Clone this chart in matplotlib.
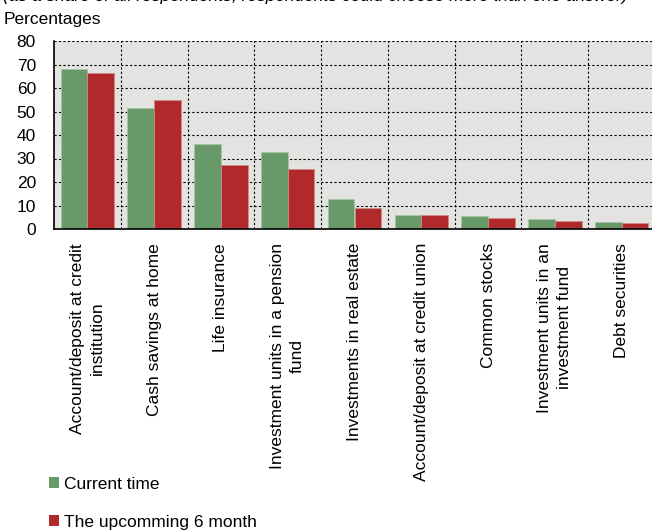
import numpy as np
import matplotlib.pyplot as plt
from matplotlib.ticker import MultipleLocator, FixedLocator
from matplotlib.patches import Patch

plt.rcParams['font.family'] = ['Liberation Sans', 'DejaVu Sans']

categories = [
    "Account/deposit at credit\ninstitution",
    "Cash savings at home",
    "Life insurance",
    "Investment units in a pension\nfund",
    "Investments in real estate",
    "Account/deposit at credit union",
    "Common stocks",
    "Investment units in an\ninvestment fund",
    "Debt securities",
]
current_time = [68.0, 51.3, 36.3, 32.6, 12.7, 5.9, 5.7, 4.2, 3.0]
upcoming_6m = [66.4, 55.0, 27.2, 25.6, 8.9, 5.8, 4.7, 3.4, 2.5]
series_names = ["Current time", "The upcomming 6 month"]

GREEN = "#679a68"
RED = "#b0292b"
FS = 12.5

fig = plt.figure(figsize=(6.52, 5.32), dpi=100)
ax = fig.add_axes([54 / 652, 1 - 229 / 532, 601 / 652, 188 / 532])

x = np.arange(len(categories))
w = 0.4
ax.bar(x - w / 2, current_time, w, color=GREEN, edgecolor="#a7c4a6", linewidth=0.6, zorder=3)
ax.bar(x + w / 2, upcoming_6m, w, color=RED, edgecolor="#d08a8a", linewidth=0.6, zorder=3)

ax.set_facecolor("#e3e4e1")
ax.set_xlim(-0.5, len(categories) - 0.5)
ax.set_ylim(0, 80)

# y axis
ax.yaxis.set_major_locator(MultipleLocator(10))
ax.tick_params(axis="y", length=0, pad=13, labelsize=FS)

# x axis: labels at category centres, grid at group boundaries
ax.set_xticks(x)
ax.set_xticklabels(categories, rotation=90, ha="center", va="top",
                   multialignment="center", linespacing=1.4, fontsize=FS)
ax.xaxis.set_minor_locator(FixedLocator(np.arange(0.5, len(categories), 1.0)))
ax.tick_params(axis="x", which="both", length=0, pad=10)

ax.grid(True, axis="y", which="major", color="black", linestyle=(0, (2, 2)), linewidth=0.8, zorder=1)
ax.grid(True, axis="x", which="minor", color="black", linestyle=(0, (2, 2)), linewidth=0.8, zorder=1)

for side in ["top", "right"]:
    ax.spines[side].set_visible(False)
for side in ["left", "bottom"]:
    ax.spines[side].set_color("black")
    ax.spines[side].set_linewidth(1.2)
    ax.spines[side].set_zorder(4)

# subtitle running off the top edge, and the unit label
fig.text(3 / 652, 1 - 1 / 532,
         "(as a share of all respondents; respondents could choose more than one answer)",
         fontsize=FS, style="italic", ha="left", va="baseline")
fig.text(4 / 652, 1 - 24 / 532, "Percentages", fontsize=FS, ha="left", va="baseline")

handles = [Patch(facecolor=GREEN, edgecolor="none"), Patch(facecolor=RED, edgecolor="none")]
fig.legend(handles, series_names, loc="upper left", bbox_to_anchor=(49 / 652, 1 - 477 / 532),
           frameon=False, fontsize=FS, borderpad=0, borderaxespad=0,
           handlelength=0.58, handleheight=0.58, handletextpad=0.3, labelspacing=1.3)

fig.savefig("out.png", dpi=100)
